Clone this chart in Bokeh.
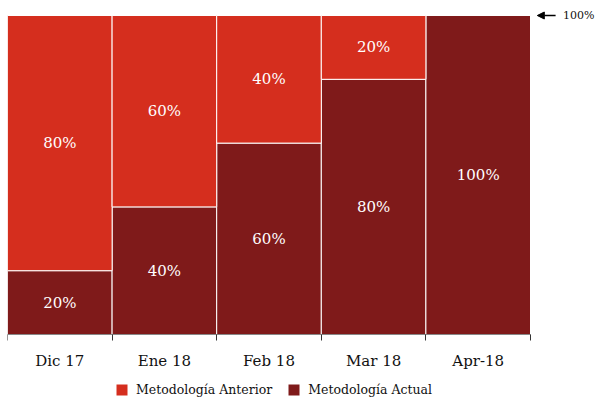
from bokeh.plotting import figure
from bokeh.models import (ColumnDataSource, FixedTicker, Legend, LegendItem,
                          Label, Arrow, NormalHead, Range1d)
from bokeh.embed import file_html
from bokeh.resources import INLINE

# Monthly share of each methodology (percent)
months = ["Dic 17", "Ene 18", "Feb 18", "Mar 18", "Apr-18"]
actual = [20, 40, 60, 80, 100]
anterior = [80, 60, 40, 20, 0]

RED = "#D52E1E"
DARK = "#7F1A1A"
FONT = "DejaVu Serif"

n = len(months)
xs = [i + 0.5 for i in range(n)]
src = ColumnDataSource(dict(x=xs, actual=actual, anterior=anterior,
                            total=[a + b for a, b in zip(actual, anterior)]))

PX = 319 / 100  # pixels per percentage point
# the frame fills the canvas; the axis is pinned at y=0 inside it
p = figure(width=596, height=401, output_backend="svg", toolbar_location=None,
           x_range=Range1d(0, n * 589 / 523),
           y_range=Range1d(-(401 - 334) / PX, 100 + 15 / PX),
           min_border_left=7, min_border_right=0, min_border_top=0,
           min_border_bottom=0)
p.outline_line_color = None
p.grid.visible = False
p.yaxis.visible = False
p.background_fill_color = "white"

r_act = p.vbar(x="x", top="actual", bottom=0, width=1.0, source=src,
               fill_color=DARK, line_color="white", line_width=1)
r_ant = p.vbar(x="x", top="total", bottom="actual", width=1.0, source=src,
               fill_color=RED, line_color="white", line_width=1)

# value labels centred inside each segment
for i in range(n):
    if actual[i] > 0:
        p.add_layout(Label(x=xs[i], y=actual[i] / 2, text=f"{actual[i]}%",
                           text_color="white", text_font=FONT, text_font_size="15px",
                           text_align="center", text_baseline="middle"))
    if anterior[i] > 0:
        p.add_layout(Label(x=xs[i], y=actual[i] + anterior[i] / 2, text=f"{anterior[i]}%",
                           text_color="white", text_font=FONT, text_font_size="15px",
                           text_align="center", text_baseline="middle"))

# category axis: labels at bar centres, ticks at bar edges
ax = p.xaxis[0]
ax.fixed_location = 0
ax.bounds = (0, n)
ax.ticker = FixedTicker(ticks=xs, minor_ticks=list(range(n + 1)))
ax.major_label_overrides = {x: m for x, m in zip(xs, months)}
ax.major_tick_line_color = None
ax.minor_tick_line_color = "#333333"
ax.minor_tick_out = 6
ax.minor_tick_in = 0
ax.axis_line_color = "#888888"
ax.major_label_text_font = FONT
ax.major_label_text_font_size = "15px"
ax.major_label_text_color = "#111111"
ax.major_label_standoff = 11

# 100% marker on the right
p.add_layout(Arrow(x_start=5.24, y_start=100, x_end=5.065, y_end=100,
                   line_color="black", line_width=1.5,
                   end=NormalHead(size=7, fill_color="black", line_color="black")))
p.add_layout(Label(x=5.31, y=100, text="100%", text_font=FONT,
                   text_font_size="11px", text_color="#111111",
                   text_baseline="middle"))

legend = Legend(items=[LegendItem(label="Metodología Anterior", renderers=[r_ant]),
                       LegendItem(label="Metodología Actual", renderers=[r_act])],
                orientation="horizontal", location=(107, 4),
                label_text_font=FONT, label_text_font_size="12.5px",
                label_text_color="#111111",
                glyph_width=15, glyph_height=15, label_standoff=7, spacing=14,
                padding=2, margin=0, border_line_color=None,
                background_fill_alpha=0)
p.add_layout(legend)

open("out.html", "w").write(file_html(p, INLINE))
